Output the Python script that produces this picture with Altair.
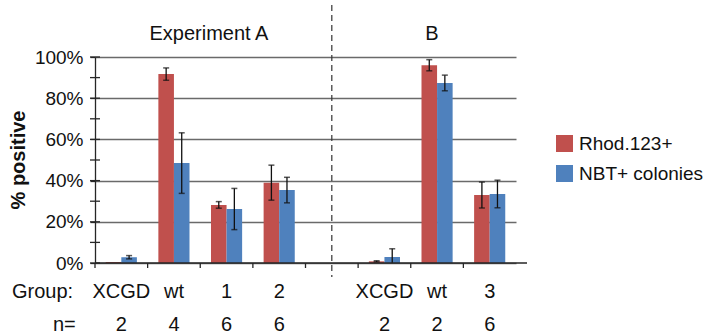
import altair as alt
import pandas as pd

# Group slots along the x axis ("gap" separates experiment A from B)
slots = ["A_XCGD", "A_wt", "A_1", "A_2", "gap", "B_XCGD", "B_wt", "B_3"]
group_labels = ["XCGD", "wt", "1", "2", "", "XCGD", "wt", "3"]
n_labels = ["2", "4", "6", "6", "", "2", "2", "6"]

series_names = ["Rhod.123+", "NBT+ colonies"]
series_colors = ["#C0504D", "#4F81BD"]

# Percent positive and error (+/-) for each slot
rhod = [0.5, 91.7, 28.2, 39.0, None, 0.8, 96.0, 33.0]
rhod_err = [0.0, 3.0, 1.6, 8.5, None, 0.3, 2.7, 6.3]
nbt = [2.8, 48.5, 26.2, 35.4, None, 2.9, 87.4, 33.5]
nbt_err = [0.8, 14.7, 10.0, 6.2, None, 4.0, 3.8, 6.7]

major_ticks = [0, 20, 40, 60, 80, 100]
minor_ticks = [0, 10, 20, 30, 40, 50, 60, 70, 80, 90, 100]

FONT = "Liberation Sans"
GRID = "#6a6a6a"
AXIS = "#262626"

rows = []
for i, s in enumerate(slots):
    for name, vals, errs in ((series_names[0], rhod, rhod_err), (series_names[1], nbt, nbt_err)):
        if vals[i] is None:
            continue
        rows.append({"slot": s, "series": name, "value": vals[i], "err": errs[i]})
df = pd.DataFrame(rows)
df["lo"] = (df["value"] - df["err"]).clip(lower=0)
df["hi"] = df["value"] + df["err"]

with_err = df[df["err"] > 0]
caps = pd.concat([
    with_err[["slot", "series"]].assign(cap=with_err["lo"]),
    with_err[["slot", "series"]].assign(cap=with_err["hi"]),
])
caps = caps[caps["cap"] > 0]

labels = pd.DataFrame({"slot": slots, "group": group_labels, "n": n_labels})
labels = labels[labels["group"] != ""]

x_scale = alt.Scale(domain=slots, range=[0, 421], paddingInner=0, paddingOuter=0)
xoff_scale = alt.Scale(domain=series_names, paddingInner=0, paddingOuter=0.69)
y_scale = alt.Scale(domain=[0, 100], nice=False)
y_axis = alt.Axis(
    values=major_ticks, labelExpr="datum.value + '%'", title=None,
    grid=True, gridColor=GRID, gridWidth=1.4,
    domainColor=AXIS, domainWidth=1.3, tickColor=AXIS, tickSize=5, tickWidth=1.3,
    labelFont=FONT, labelFontSize=19, labelColor="#111", labelPadding=7,
)


def X(**kw):
    return alt.X("slot:N", scale=x_scale, axis=None, **kw)


def XO():
    return alt.XOffset("series:N", scale=xoff_scale)


bars = alt.Chart(df).mark_bar().encode(
    x=X(), xOffset=XO(),
    y=alt.Y("value:Q", scale=y_scale, axis=y_axis),
    color=alt.Color(
        "series:N",
        scale=alt.Scale(domain=series_names, range=series_colors),
        legend=alt.Legend(
            title=None, orient="none", legendX=460, legendY=77,
            symbolType="square", symbolSize=289, symbolStrokeWidth=0,
            symbolOpacity=1, labelFont=FONT, labelFontSize=19, labelColor="#111",
            labelOffset=5, rowPadding=10, padding=0,
        ),
    ),
)

err_lines = alt.Chart(df).mark_rule(color="#111", strokeWidth=1.3).encode(
    x=X(), xOffset=XO(),
    y=alt.Y("lo:Q", scale=y_scale, axis=y_axis), y2="hi:Q",
)

err_caps = alt.Chart(caps).mark_tick(
    orient="horizontal", size=6, thickness=1.5, color="#111"
).encode(
    x=X(), xOffset=XO(),
    y=alt.Y("cap:Q", scale=y_scale, axis=y_axis),
)

# crossing tick marks on the y axis (every 10%)
y_ticks = alt.Chart(pd.DataFrame({"v": minor_ticks})).mark_rule(
    color=AXIS, strokeWidth=1.3
).encode(
    x=alt.value(-5), x2=alt.value(5),
    y=alt.Y("v:Q", scale=y_scale, axis=y_axis),
)

# x axis baseline across the full plot width
baseline = alt.Chart(pd.DataFrame({"v": [0]})).mark_rule(
    color=AXIS, strokeWidth=1.3
).encode(
    x=alt.value(0), x2=alt.value(432),
    y=alt.Y("v:Q", scale=y_scale, axis=y_axis),
)

# tick marks between groups on the x axis
x_ticks = alt.Chart(pd.DataFrame({"slot": slots})).mark_rule(
    color=AXIS, strokeWidth=1.3
).encode(
    x=X(bandPosition=0), y=alt.value(206), y2=alt.value(211),
)

divider = alt.Chart(pd.DataFrame({"slot": ["gap"]})).mark_rule(
    color="#333", strokeWidth=1.2, strokeDash=[6, 4]
).encode(
    x=X(), y=alt.value(-52), y2=alt.value(220),
)

text_style = dict(font=FONT, fontSize=20, color="#111", baseline="alphabetic")

group_text = alt.Chart(labels).mark_text(**text_style).encode(
    x=X(), y=alt.value(241), text="group:N"
)
n_text = alt.Chart(labels).mark_text(**text_style).encode(
    x=X(), y=alt.value(274), text="n:N"
)
group_head = alt.Chart(pd.DataFrame({"t": ["Group:"]})).mark_text(
    align="left", **text_style
).encode(x=alt.value(-83), y=alt.value(241), text="t:N")
n_head = alt.Chart(pd.DataFrame({"t": ["n="]})).mark_text(
    align="left", **text_style
).encode(x=alt.value(-42), y=alt.value(274), text="t:N")

title_style = dict(font=FONT, fontSize=20, color="#111", baseline="alphabetic")
title_a = alt.Chart(pd.DataFrame({"slot": ["A_1"], "t": ["Experiment A"]})).mark_text(
    **title_style
).encode(x=X(bandPosition=0.165), y=alt.value(-17), text="t:N")
title_b = alt.Chart(pd.DataFrame({"slot": ["B_wt"], "t": ["B"]})).mark_text(
    **title_style
).encode(x=X(bandPosition=0.4), y=alt.value(-17), text="t:N")

y_title = alt.Chart(pd.DataFrame({"t": ["% positive"]})).mark_text(
    font=FONT, fontSize=20, fontWeight="bold", color="#111",
    angle=270, align="center", baseline="middle",
).encode(x=alt.value(-76), y=alt.value(103), text="t:N")

chart = alt.layer(
    bars, err_lines, err_caps, y_ticks, baseline, x_ticks, divider,
    group_text, n_text, group_head, n_head, title_a, title_b, y_title,
).properties(
    width=432, height=206,
    autosize=alt.AutoSizeParams(type="none"),
    padding={"left": 95, "top": 57, "right": 185, "bottom": 71},
).configure_view(stroke=None)

chart.save("out.html", embed_options={"renderer": "svg", "actions": False})
